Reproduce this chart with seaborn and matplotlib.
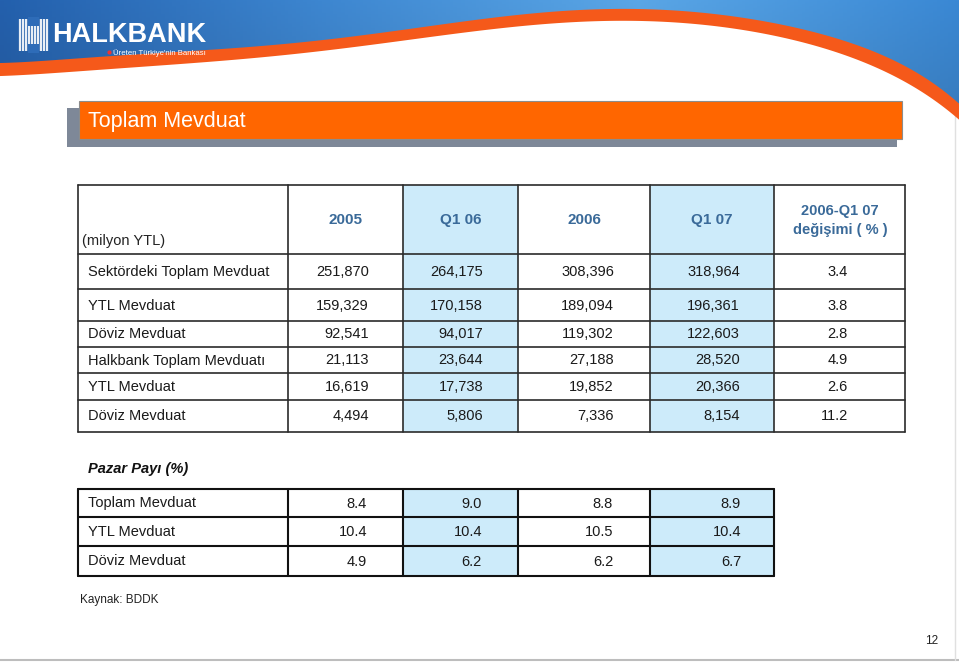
import numpy as np
import matplotlib
matplotlib.use("Agg")
import matplotlib.pyplot as plt
import seaborn as sns
from matplotlib.patches import Rectangle, Polygon

sns.set_theme(style="white")
plt.rcParams['font.family'] = ['Liberation Sans', 'DejaVu Sans']

# ---------------- data ----------------
columns = ["2005", "Q1 06", "2006", "Q1 07"]
change_header = ["2006-Q1 07", "değişimi ( % )"]
unit_label = "(milyon YTL)"
row_labels = ["Sektördeki Toplam Mevduat", "YTL Mevduat", "Döviz Mevduat",
              "Halkbank Toplam Mevduatı", "YTL Mevduat", "Döviz Mevduat"]
sektor_toplam = [251870, 264175, 308396, 318964]
sektor_ytl = [159329, 170158, 189094, 196361]
sektor_doviz = [92541, 94017, 119302, 122603]
halk_toplam = [21113, 23644, 27188, 28520]
halk_ytl = [16619, 17738, 19852, 20366]
halk_doviz = [4494, 5806, 7336, 8154]
change_pct = [3.4, 3.8, 2.8, 4.9, 2.6, 11.2]

share_title = "Pazar Payı (%)"
share_labels = ["Toplam Mevduat", "YTL Mevduat", "Döviz Mevduat"]
share_toplam = [8.4, 9.0, 8.8, 8.9]
share_ytl = [10.4, 10.4, 10.5, 10.4]
share_doviz = [4.9, 6.2, 6.2, 6.7]

title = "Toplam Mevduat"
source = "Kaynak: BDDK"
page = "12"

values1 = [sektor_toplam, sektor_ytl, sektor_doviz, halk_toplam, halk_ytl, halk_doviz]
values2 = [share_toplam, share_ytl, share_doviz]

# ---------------- layout ----------------
W, H = 959, 663
fig = plt.figure(figsize=(W / 100, H / 100), dpi=100)
ax = fig.add_axes([0, 0, 1, 1])
ax.set_xlim(0, W)
ax.set_ylim(H, 0)
ax.axis('off')

FONT = ['Liberation Sans', 'DejaVu Sans']

# ---- banner ----
kx = np.array([0, 100, 200, 300, 400, 500, 570, 650, 720, 800, 850, 900, 930, 959])
ktop = np.array([63, 57, 50, 43, 30, 17, 10, 10, 15, 27, 44, 64, 80, 104])
kbot = np.array([76, 70, 62, 54, 41, 28, 22, 22, 27, 40, 58, 80, 96, 120])
xs = np.linspace(0, W, 400)
t = (xs - W / 2) / (W / 2)
ptop = np.polyfit((kx - W / 2) / (W / 2), ktop, 7)
pbot = np.polyfit((kx - W / 2) / (W / 2), kbot, 7)
ytop = np.polyval(ptop, t)
ybot = np.polyval(pbot, t)

pal = sns.blend_palette(["#2360ad", "#3d86d0", "#5aa6e6", "#3a88d4"], n_colors=256)
grad = np.array(pal)[None, :, :]
vert = np.linspace(1.0, 0.85, 130)[:, None, None]
img = np.clip(np.repeat(grad, 130, axis=0) * vert + (1 - vert) * 0.15, 0, 1)
im = ax.imshow(img, extent=[0, W, 130, 0], aspect='auto', zorder=1)
blue_poly = Polygon(np.column_stack([np.r_[0, xs, W], np.r_[0, ytop + 1, 0]]),
                    closed=True, transform=ax.transData)
im.set_clip_path(blue_poly)
ax.add_patch(Polygon(np.column_stack([np.r_[xs, xs[::-1]], np.r_[ytop, ybot[::-1]]]),
                     closed=True, facecolor="#f5591a", edgecolor='none', zorder=2))

# logo icon
for i, lx in enumerate(np.linspace(20, 47, 10)):
    ax.plot([lx, lx], [19, 51], color='white', lw=1.6, alpha=0.9, zorder=3,
            solid_capstyle='butt')
ax.add_patch(Rectangle((28, 17), 11, 9, facecolor="#2e6cb8", edgecolor='none', zorder=4))
ax.add_patch(Rectangle((28, 44), 11, 9, facecolor="#2e6cb8", edgecolor='none', zorder=4))
ax.text(52, 35, "HALKBANK", color='white', fontsize=19.5, fontweight='bold',
        family=FONT, va='center', ha='left', zorder=5)
ax.plot([109], [52], marker='o', ms=2, color='#e33', zorder=5)
ax.text(113, 53, "Üreten Türkiye'nin Bankası", color='white', fontsize=5.6,
        va='center', ha='left', zorder=5)

# page border lines
ax.plot([0, W], [660, 660], color="#bdbdbd", lw=1.5, zorder=1)
ax.plot([955, 955], [110, 660], color="#e0e0e0", lw=1.0, zorder=1)

# ---- title box ----
ax.add_patch(Rectangle((67, 108), 830, 39, facecolor="#7e8898", edgecolor='none', zorder=2))
ax.add_patch(Rectangle((79, 101), 823, 38, facecolor="#ff6600", edgecolor="#8c8c8c",
                       lw=0.8, zorder=3))
ax.text(88, 122, title, color='white', fontsize=15.5, family=FONT,
        va='center', ha='left', zorder=4)

# ---- table 1 ----
col_edges = [78, 288, 403, 518, 650, 774, 905]
row_edges1 = [185, 254, 289, 321, 347, 373, 400, 432]
hl_cols = [1, 3]
light = "#cdebfa"
hdr_color = "#3a6a99"
line_c = "#2b2b2b"

for c in hl_cols:
    x0, x1 = col_edges[c + 1], col_edges[c + 2]
    ax.add_patch(Rectangle((x0, row_edges1[0]), x1 - x0, row_edges1[-1] - row_edges1[0],
                           facecolor=light, edgecolor='none', zorder=2))
for y in row_edges1:
    ax.plot([col_edges[0], col_edges[-1]], [y, y], color=line_c, lw=1.2, zorder=3)
for x in col_edges:
    ax.plot([x, x], [row_edges1[0], row_edges1[-1]], color=line_c, lw=1.2, zorder=3)

for j, lab in enumerate(columns):
    cx = (col_edges[j + 1] + col_edges[j + 2]) / 2
    ax.text(cx, 220, lab, color=hdr_color, fontsize=11, fontweight='bold',
            ha='center', va='center', zorder=4)
ax.text(840, 211, change_header[0], color=hdr_color, fontsize=10.5, fontweight='bold',
        ha='center', va='center', zorder=4)
ax.text(840, 230, change_header[1], color=hdr_color, fontsize=10.5, fontweight='bold',
        ha='center', va='center', zorder=4)
ax.text(82, 241, unit_label, color='#222222', fontsize=10.5, ha='left', va='center', zorder=4)

num_right = [369, 483, 614, 740]
for i, lab in enumerate(row_labels):
    cy = (row_edges1[i + 1] + row_edges1[i + 2]) / 2 + 0.5
    ax.text(88, cy, lab, color='#1a1a1a', fontsize=10.5, ha='left', va='center', zorder=4)
    for j, v in enumerate(values1[i]):
        ax.text(num_right[j], cy, f"{v:,}", color='#1a1a1a', fontsize=10.5,
                ha='right', va='center', zorder=4)
    ax.text(848, cy, f"{change_pct[i]:.1f}", color='#1a1a1a', fontsize=10.5,
            ha='right', va='center', zorder=4)

# ---- table 2 ----
ax.text(88, 469, share_title, color='#111111', fontsize=10.5, fontweight='bold',
        fontstyle='italic', family=FONT, ha='left', va='center', zorder=4)
col_edges2 = col_edges[:-1]
row_edges2 = [489, 517, 546, 576]
for c in hl_cols:
    x0, x1 = col_edges2[c + 1], col_edges2[c + 2]
    ax.add_patch(Rectangle((x0, row_edges2[0]), x1 - x0, row_edges2[-1] - row_edges2[0],
                           facecolor=light, edgecolor='none', zorder=2))
for y in row_edges2:
    ax.plot([col_edges2[0], col_edges2[-1]], [y, y], color='#111111', lw=1.5, zorder=3)
for x in col_edges2:
    ax.plot([x, x], [row_edges2[0], row_edges2[-1]], color='#111111', lw=1.5, zorder=3)
num_right2 = [367, 482, 613, 741]
for i, lab in enumerate(share_labels):
    cy = (row_edges2[i + 1] + row_edges2[i]) / 2
    ax.text(88, cy, lab, color='#1a1a1a', fontsize=10.5, family=FONT,
            ha='left', va='center', zorder=4)
    for j, v in enumerate(values2[i]):
        ax.text(num_right2[j], cy + 1, f"{v:.1f}", color='#1a1a1a', fontsize=10.5,
                family=FONT, ha='right', va='center', zorder=4)

ax.text(80, 600, source, color='#222222', fontsize=8.5, family=FONT,
        ha='left', va='center', zorder=4)
ax.text(938, 641, page, color='#222222', fontsize=8.5, family=FONT,
        ha='right', va='center', zorder=4)

fig.savefig("out.png", dpi=100)
